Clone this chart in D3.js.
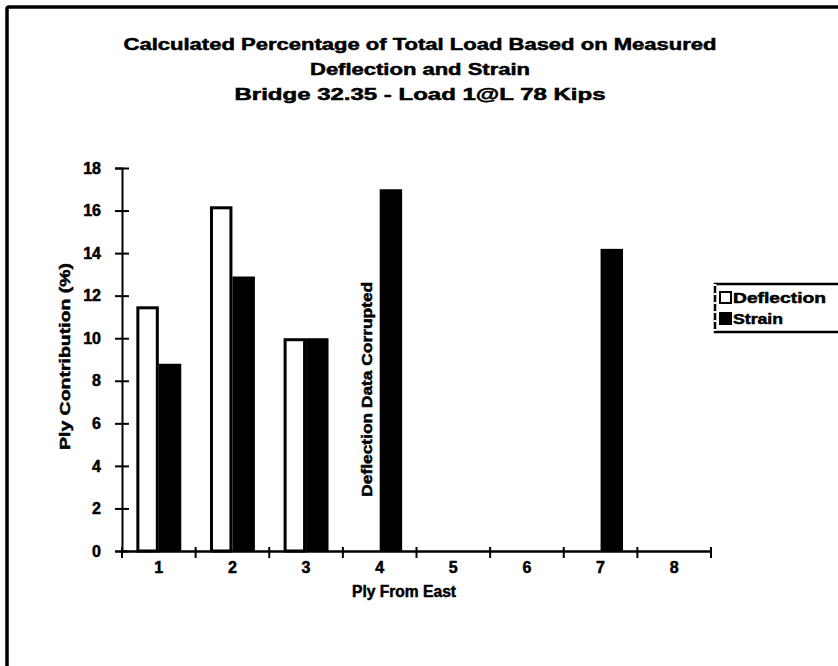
<!DOCTYPE html>
<html>
<head>
<meta charset="utf-8">
<script src="https://cdn.jsdelivr.net/npm/d3@7"></script>
<style>
  html, body { margin: 0; padding: 0; background: #fff; overflow: hidden; }
  svg { display: block; }
  text { font-family: Arial, "Liberation Sans", Helvetica, sans-serif; font-weight: bold; fill: #000; stroke: #000; stroke-width: 0.5px; }
</style>
</head>
<body>
<div id="chart"></div>
<script>
// Ply load distribution, Bridge 32.35
const plies = ["1", "2", "3", "4", "5", "6", "7", "8"];
const seriesNames = ["Deflection", "Strain"];
const deflection = [11.5, 16.2, 10.0, null, null, null, null, null];
const strain = [8.8, 12.9, 10.0, 17.0, null, null, 14.2, null];
const yTicks = [0, 2, 4, 6, 8, 10, 12, 14, 16, 18];
const titleLines = [
  "Calculated Percentage of Total Load Based on Measured",
  "Deflection and Strain",
  "Bridge 32.35 - Load 1@L 78 Kips"
];
const corruptedNote = "Deflection Data Corrupted";
const corruptedPly = "4";

const W = 838, H = 666;
const svg = d3.select("#chart").append("svg")
  .attr("width", W).attr("height", H);

// outer chart frame (runs past the right and bottom edges)
svg.append("rect")
  .attr("x", 7).attr("y", 7)
  .attr("width", 900).attr("height", 800)
  .attr("rx", 2)
  .attr("fill", "none").attr("stroke", "#000").attr("stroke-width", 3.5);

// title
const titleY = [50, 75, 100];
const titleW = [593, 220, 371];
svg.selectAll("text.title").data(titleLines).join("text")
  .attr("class", "title")
  .attr("x", 420)
  .attr("y", (d, i) => titleY[i])
  .attr("text-anchor", "middle")
  .attr("font-size", 16)
  .attr("textLength", (d, i) => titleW[i])
  .attr("lengthAdjust", "spacingAndGlyphs")
  .text(d => d);

// scales
const plot = { left: 122, right: 711, top: 168, bottom: 551 };
const x = d3.scaleBand().domain(plies)
  .range([plot.left, plot.right])
  .paddingInner(0.39).paddingOuter(0.195);
const x1 = d3.scaleBand().domain(seriesNames).range([0, x.bandwidth()]);
const y = d3.scaleLinear().domain([0, 18]).range([plot.bottom, plot.top]);

// bars
const rows = plies.map((p, i) => ({ ply: p, values: [deflection[i], strain[i]] }));
const groups = svg.append("g").selectAll("g").data(rows).join("g")
  .attr("transform", d => `translate(${x(d.ply)},0)`);
groups.selectAll("rect")
  .data(d => d.values.map((v, k) => ({ name: seriesNames[k], v, k })).filter(e => e.v != null))
  .join("rect")
  .attr("x", e => x1(e.name) + (e.k === 0 ? 1.5 : 0))
  .attr("y", e => y(e.v) + (e.k === 0 ? 1.5 : 0))
  .attr("width", e => x1.bandwidth() - (e.k === 0 ? 3 : 0))
  .attr("height", e => y(0) - y(e.v) - (e.k === 0 ? 1.5 : 0))
  .attr("fill", e => e.k === 0 ? "#fff" : "#000")
  .attr("stroke", "#000")
  .attr("stroke-width", e => e.k === 0 ? 3 : 0);

// note standing in for the missing deflection bar
svg.append("text")
  .attr("transform", `translate(${x(corruptedPly) + x1(seriesNames[0]) + x1.bandwidth() / 2 - 2},${y(7.6)}) rotate(-90)`)
  .attr("text-anchor", "middle")
  .attr("dominant-baseline", "central")
  .attr("font-size", 15)
  .attr("textLength", 215)
  .attr("lengthAdjust", "spacingAndGlyphs")
  .text(corruptedNote);

// y axis
const yAxis = svg.append("g")
  .attr("transform", `translate(${plot.left},0)`)
  .call(d3.axisLeft(y).tickValues(yTicks).tickSize(7).tickPadding(14));
yAxis.select(".domain").attr("stroke", "#000").attr("stroke-width", 2);
yAxis.selectAll(".tick line").attr("x1", -7).attr("x2", 7)
  .attr("stroke", "#000").attr("stroke-width", 2);
yAxis.selectAll(".tick text")
  .attr("font-size", 16).attr("font-family", "Arial, 'Liberation Sans', sans-serif")
  .attr("font-weight", "bold").attr("fill", "#000");

// x axis: line, ticks at category boundaries, centred labels
const xAxis = svg.append("g")
  .attr("transform", `translate(0,${plot.bottom})`)
  .call(d3.axisBottom(x).tickSize(0).tickPadding(11));
xAxis.select(".domain").attr("stroke", "#000").attr("stroke-width", 2.5);
xAxis.selectAll(".tick text")
  .attr("font-size", 16).attr("font-family", "Arial, 'Liberation Sans', sans-serif")
  .attr("font-weight", "bold").attr("fill", "#000");
const edges = plies.map(p => x(p) - x.step() * x.paddingInner() / 2).concat([plot.right]);
xAxis.selectAll("line.edge").data(edges).join("line")
  .attr("class", "edge")
  .attr("x1", d => d).attr("x2", d => d)
  .attr("y1", -4).attr("y2", 7)
  .attr("stroke", "#000").attr("stroke-width", 2);

// axis titles
svg.append("text")
  .attr("transform", `translate(64,${(263 + 450) / 2}) rotate(-90)`)
  .attr("text-anchor", "middle")
  .attr("dominant-baseline", "central")
  .attr("font-size", 15)
  .attr("textLength", 187)
  .attr("lengthAdjust", "spacingAndGlyphs")
  .text("Ply Contribution (%)");

svg.append("text")
  .attr("x", 404).attr("y", 597)
  .attr("text-anchor", "middle")
  .attr("font-size", 16)
  .attr("textLength", 104)
  .attr("lengthAdjust", "spacingAndGlyphs")
  .text("Ply From East");

// legend (box runs past the right edge)
const lg = svg.append("g").attr("transform", "translate(715,284)");
lg.append("rect")
  .attr("x", 0).attr("y", 0).attr("width", 200).attr("height", 48)
  .attr("fill", "#fff").attr("stroke", "#000").attr("stroke-width", 2.5);
lg.append("line")
  .attr("x1", 0).attr("x2", 0).attr("y1", 0).attr("y2", 48)
  .attr("stroke", "#fff").attr("stroke-width", 3)
  .attr("stroke-dasharray", "2,7");
const items = lg.selectAll("g").data(seriesNames).join("g")
  .attr("transform", (d, i) => `translate(4,${7 + i * 21})`);
items.append("rect")
  .attr("x", 1).attr("y", 1).attr("width", 11).attr("height", 11)
  .attr("fill", (d, i) => i === 0 ? "#fff" : "#000")
  .attr("stroke", "#000").attr("stroke-width", 2);
items.append("text")
  .attr("x", 14).attr("y", 12)
  .attr("font-size", 15)
  .attr("textLength", (d, i) => i === 0 ? 93 : 50)
  .attr("lengthAdjust", "spacingAndGlyphs")
  .text(d => d);
</script>
</body>
</html>
